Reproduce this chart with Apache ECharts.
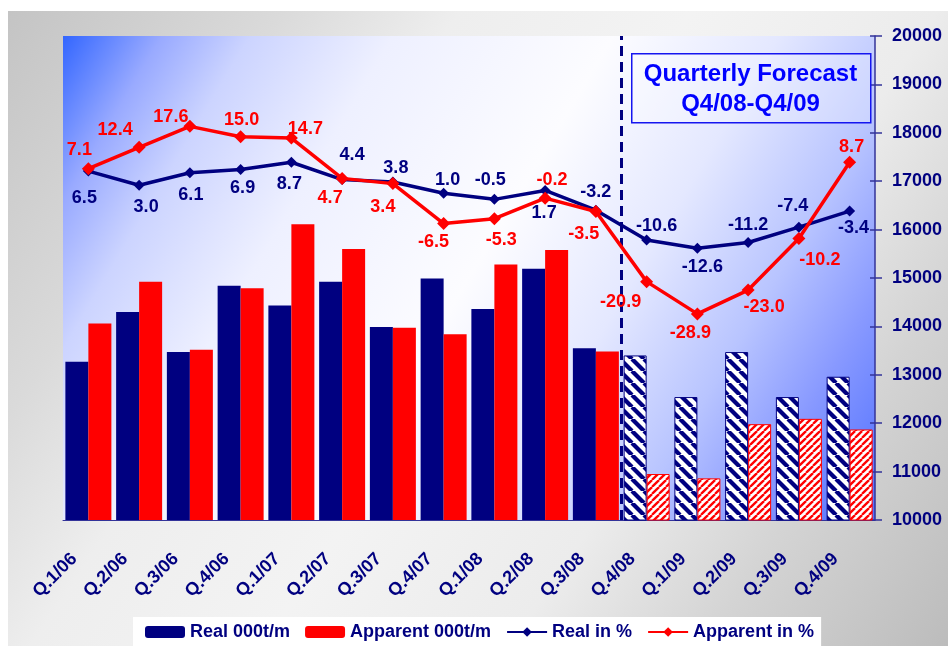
<!DOCTYPE html>
<html>
<head>
<meta charset="utf-8">
<script src="https://cdn.jsdelivr.net/npm/echarts@6/dist/echarts.min.js"></script>
<style>
html,body{margin:0;padding:0;background:#ffffff;}
#c{position:absolute;left:8px;top:11px;width:940px;height:635px;}
</style>
</head>
<body>
<div id="c"></div>
<script>
// ---- data ----
const categories = ['Q.1/06','Q.2/06','Q.3/06','Q.4/06','Q.1/07','Q.2/07','Q.3/07','Q.4/07','Q.1/08','Q.2/08','Q.3/08','Q.4/08','Q.1/09','Q.2/09','Q.3/09','Q.4/09'];
const realVolume = [13270, 14300, 13470, 14840, 14430, 14920, 13990, 14990, 14360, 15190, 13550, 13400, 12540, 13470, 12540, 12960];
const apparentVolume = [14060, 14920, 13520, 14790, 16110, 15600, 13970, 13840, 15280, 15580, 13480, 10950, 10860, 11980, 12090, 11870];
const realPct = [6.5, 3.0, 6.1, 6.9, 8.7, 4.4, 3.8, 1.0, -0.5, 1.7, -3.2, -10.6, -12.6, -11.2, -7.4, -3.4];
const apparentPct = [7.1, 12.4, 17.6, 15.0, 14.7, 4.7, 3.4, -6.5, -5.3, -0.2, -3.5, -20.9, -28.9, -23.0, -10.2, 8.7];
const volumeTicks = [10000, 11000, 12000, 13000, 14000, 15000, 16000, 17000, 18000, 19000, 20000];
const forecastStart = 11; // index of Q.4/08
const seriesNames = ['Real 000t/m', 'Apparent 000t/m', 'Real in %', 'Apparent in %'];
const forecastTitle = 'Quarterly Forecast\nQ4/08-Q4/09';

// ---- layout (label offsets, px) ----
const realLabelOffset = [[-4,27],[7,22],[1,22],[2,19],[-2,22],[10,-25],[3,-14],[4,-13],[-4,-19],[-1,23],[0,-18],[10,-14],[5,19],[0,-17],[-6,-21],[4,17]];
const apparentLabelOffset = [[-9,-19],[-24,-17],[-19,-9],[1,-17],[14,-9],[-12,20],[-10,23],[-10,18],[7,21],[7,-18],[-12,23],[-26,20],[-7,19],[16,17],[21,22],[2,-15]];

const NAVY = '#000080';
const RED = '#ff0000';
const FONT = '"Liberation Sans", Arial, sans-serif';

function hatch(color, size, lw, slash) {
  const c = document.createElement('canvas');
  c.width = size; c.height = size;
  const g = c.getContext('2d');
  g.fillStyle = '#ffffff';
  g.fillRect(0, 0, size, size);
  g.strokeStyle = color;
  g.lineWidth = lw;
  for (let k = -1; k <= 1; k++) {
    g.beginPath();
    if (slash) { g.moveTo(k * size, size); g.lineTo(k * size + size, 0); }
    else { g.moveTo(k * size, 0); g.lineTo(k * size + size, size); }
    g.stroke();
  }
  return c;
}
const navyHatch = hatch(NAVY, 12, 4.2, false);
const redHatch = hatch(RED, 7, 2.3, true);

const chart = echarts.init(document.getElementById('c'), null, {renderer: 'canvas'});

const realBarData = realVolume.map((v, i) => i >= forecastStart
  ? {value: v, itemStyle: {color: {image: navyHatch, repeat: 'repeat'}, borderColor: NAVY, borderWidth: 1}}
  : v);
const appBarData = apparentVolume.map((v, i) => i >= forecastStart
  ? {value: v, itemStyle: {color: {image: redHatch, repeat: 'repeat'}, borderColor: RED, borderWidth: 1}}
  : v);
const realLineData = realPct.map((v, i) => ({value: v, label: {offset: realLabelOffset[i]}}));
const appLineData = apparentPct.map((v, i) => ({value: v, label: {offset: apparentLabelOffset[i]}}));

const option = {
  animation: false,
  backgroundColor: new echarts.graphic.LinearGradient(0, 0, 1, 1, [
    {offset: 0, color: '#c4c4c4'},
    {offset: 0.2, color: '#dadada'},
    {offset: 0.33, color: '#eeeeee'},
    {offset: 0.5, color: '#f3f3f3'},
    {offset: 0.68, color: '#ececec'},
    {offset: 0.82, color: '#d4d4d4'},
    {offset: 1, color: '#bcbcbc'}
  ]),
  textStyle: {fontFamily: FONT},
  grid: {
    left: 55, right: 73, top: 25, bottom: 126,
    show: true, borderWidth: 0,
    backgroundColor: new echarts.graphic.LinearGradient(0, 0, 1, 1, [
      {offset: 0, color: '#3366ff'},
      {offset: 0.09, color: '#99aaff'},
      {offset: 0.17, color: '#ccd4ff'},
      {offset: 0.3, color: '#eef0ff'},
      {offset: 0.5, color: '#fcfcff'},
      {offset: 0.65, color: '#e4e8ff'},
      {offset: 0.78, color: '#b8c4ff'},
      {offset: 0.88, color: '#8899ff'},
      {offset: 1, color: '#4f6fff'}
    ])
  },
  legend: {
    data: seriesNames,
    left: 125, bottom: 0,
    padding: [6, 7, 5, 12],
    backgroundColor: '#ffffff',
    itemWidth: 40, itemHeight: 12, itemGap: 15,
    textStyle: {color: NAVY, fontWeight: 'bold', fontSize: 18, fontFamily: FONT}
  },
  xAxis: [{
    type: 'category',
    data: categories,
    axisLine: {show: true, onZero: false, lineStyle: {color: '#333399', width: 1}},
    axisTick: {show: false},
    axisLabel: {interval: 0, rotate: 45, margin: 22, padding: [0, 20, 0, 0], color: NAVY, fontWeight: 'bold', fontSize: 18, fontFamily: FONT},
    splitLine: {show: false}
  }, {
    type: 'value', show: false, min: 0, max: categories.length,
    axisLine: {show: false, onZero: false}
  }],
  yAxis: [{
    type: 'value', show: false, min: -80, max: 40, splitLine: {show: false}
  }, {
    type: 'value', position: 'right',
    min: volumeTicks[0], max: volumeTicks[volumeTicks.length - 1], interval: volumeTicks[1] - volumeTicks[0],
    axisLine: {show: true, onZero: false, lineStyle: {color: '#333399', width: 1.5}},
    axisTick: {show: true, length: 7, lineStyle: {color: '#333399', width: 1.5}},
    axisLabel: {margin: 17, color: NAVY, fontWeight: 'bold', fontSize: 18, fontFamily: FONT,
      formatter: v => String(v)},
    splitLine: {show: false}
  }, {
    type: 'value', position: 'right',
    min: volumeTicks[0], max: volumeTicks[volumeTicks.length - 1], interval: volumeTicks[1] - volumeTicks[0],
    axisLine: {show: false, onZero: false},
    axisTick: {show: true, inside: true, length: 5, lineStyle: {color: '#333399', width: 1.5}},
    axisLabel: {show: false},
    splitLine: {show: false}
  }],
  series: [{
    name: seriesNames[0], type: 'bar', xAxisIndex: 0, yAxisIndex: 1,
    data: realBarData, barWidth: 23, barGap: '0%',
    itemStyle: {color: NAVY}
  }, {
    name: seriesNames[1], type: 'bar', xAxisIndex: 0, yAxisIndex: 1,
    data: appBarData, barWidth: 23, barGap: '0%',
    itemStyle: {color: RED}
  }, {
    name: 'forecastDivider', type: 'line', xAxisIndex: 1, yAxisIndex: 0, data: [],
    markLine: {
      silent: true, symbol: ['none', 'none'], label: {show: false},
      lineStyle: {color: NAVY, width: 3, type: [10, 6]},
      data: [{xAxis: forecastStart}]
    }
  }, {
    name: seriesNames[2], type: 'line', xAxisIndex: 0, yAxisIndex: 0,
    data: realLineData, symbol: 'diamond', symbolSize: 11,
    lineStyle: {color: NAVY, width: 3.5}, itemStyle: {color: NAVY},
    label: {show: true, position: 'inside', color: NAVY, fontWeight: 'bold', fontSize: 18, fontFamily: FONT,
      formatter: p => p.value.toFixed(1)},
    z: 5
  }, {
    name: seriesNames[3], type: 'line', xAxisIndex: 0, yAxisIndex: 0,
    data: appLineData, symbol: 'diamond', symbolSize: 13,
    lineStyle: {color: RED, width: 3.5}, itemStyle: {color: RED},
    label: {show: true, position: 'inside', color: RED, fontWeight: 'bold', fontSize: 18, fontFamily: FONT,
      formatter: p => p.value.toFixed(1)},
    z: 6
  }],
  graphic: [{
    type: 'rect', left: 623, top: 42, z: 20,
    shape: {width: 239, height: 69},
    style: {fill: 'rgba(255,255,255,0.25)', stroke: '#1515f0', lineWidth: 1.5}
  }, {
    type: 'text', x: 742.5, y: 48, z: 21,
    style: {text: forecastTitle, align: 'center', verticalAlign: 'top', lineHeight: 30,
      fill: '#0000ff', fontSize: 24, fontWeight: 'bold', fontFamily: FONT}
  }]
};
chart.setOption(option);
</script>
</body>
</html>
